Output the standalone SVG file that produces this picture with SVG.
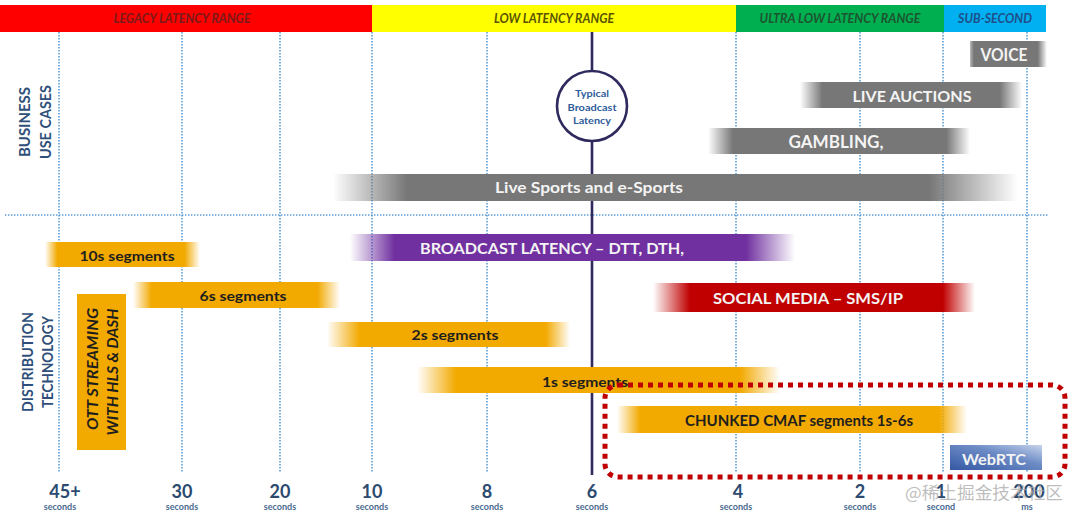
<svg xmlns="http://www.w3.org/2000/svg" width="1080" height="517" viewBox="0 0 1080 517">
<style>
.grid{stroke:#5b9bd5;stroke-width:1.6;stroke-dasharray:1.4 1.6;fill:none}
.band{font-family:Lato,"Liberation Sans",sans-serif;font-style:italic;font-weight:bold;font-size:12.5px;text-anchor:middle}
.lbl{font-family:Lato,"Liberation Sans",sans-serif;font-weight:bold;font-size:15px;fill:#2f4f7a;text-anchor:middle}
.wt{font-family:Lato,"Liberation Sans",sans-serif;font-weight:bold;fill:#f4f4f4;text-anchor:middle}
.dk{font-family:Lato,"Liberation Sans",sans-serif;font-weight:bold;fill:#1e1e1e;text-anchor:middle}
.num{font-family:Lato,"Liberation Sans",sans-serif;font-weight:bold;font-size:18px;fill:#2c4a70;text-anchor:middle}
.sec{font-family:Lato,"Liberation Sans",sans-serif;font-weight:bold;font-size:9px;fill:#4a6a90;text-anchor:middle}
.circ{font-family:Lato,"Liberation Sans",sans-serif;font-weight:bold;font-size:10px;fill:#2e5c9a;text-anchor:middle}
</style>
<defs>
<linearGradient id="gVoice"><stop offset="0" stop-color="#777" stop-opacity="0.5"/><stop offset="0.05" stop-color="#777"/><stop offset="0.88" stop-color="#777"/><stop offset="1" stop-color="#777" stop-opacity="0"/></linearGradient>
<linearGradient id="gAuc"><stop offset="0" stop-color="#777" stop-opacity="0"/><stop offset="0.1" stop-color="#777"/><stop offset="0.9" stop-color="#777"/><stop offset="1" stop-color="#777" stop-opacity="0"/></linearGradient>
<linearGradient id="gGam"><stop offset="0" stop-color="#777" stop-opacity="0"/><stop offset="0.095" stop-color="#777"/><stop offset="0.91" stop-color="#777"/><stop offset="1" stop-color="#777" stop-opacity="0"/></linearGradient>
<linearGradient id="gSport"><stop offset="0" stop-color="#777" stop-opacity="0"/><stop offset="0.108" stop-color="#777"/><stop offset="0.87" stop-color="#777"/><stop offset="1" stop-color="#777" stop-opacity="0"/></linearGradient>
<linearGradient id="g10"><stop offset="0" stop-color="#f2a900" stop-opacity="0"/><stop offset="0.08" stop-color="#f2a900"/><stop offset="0.9" stop-color="#f2a900"/><stop offset="1" stop-color="#f2a900" stop-opacity="0"/></linearGradient>
<linearGradient id="g6"><stop offset="0" stop-color="#f2a900" stop-opacity="0"/><stop offset="0.09" stop-color="#f2a900"/><stop offset="0.89" stop-color="#f2a900"/><stop offset="1" stop-color="#f2a900" stop-opacity="0"/></linearGradient>
<linearGradient id="g2"><stop offset="0" stop-color="#f2a900" stop-opacity="0"/><stop offset="0.135" stop-color="#f2a900"/><stop offset="0.9" stop-color="#f2a900"/><stop offset="1" stop-color="#f2a900" stop-opacity="0"/></linearGradient>
<linearGradient id="g1"><stop offset="0" stop-color="#f2a900" stop-opacity="0"/><stop offset="0.108" stop-color="#f2a900"/><stop offset="0.89" stop-color="#f2a900"/><stop offset="1" stop-color="#f2a900" stop-opacity="0"/></linearGradient>
<linearGradient id="gCm"><stop offset="0" stop-color="#f2a900" stop-opacity="0"/><stop offset="0.066" stop-color="#f2a900"/><stop offset="0.92" stop-color="#f2a900"/><stop offset="1" stop-color="#f2a900" stop-opacity="0"/></linearGradient>
<linearGradient id="gPur"><stop offset="0" stop-color="#7030a0" stop-opacity="0"/><stop offset="0.1" stop-color="#7030a0"/><stop offset="0.89" stop-color="#7030a0"/><stop offset="1" stop-color="#7030a0" stop-opacity="0"/></linearGradient>
<linearGradient id="gRed"><stop offset="0" stop-color="#c00000" stop-opacity="0"/><stop offset="0.115" stop-color="#c00000"/><stop offset="0.9" stop-color="#c00000"/><stop offset="1" stop-color="#c00000" stop-opacity="0"/></linearGradient>
<linearGradient id="gWeb" x1="0" y1="1" x2="1" y2="0"><stop offset="0" stop-color="#3558a3"/><stop offset="0.6" stop-color="#6d8cc6"/><stop offset="1" stop-color="#c7d4ec"/></linearGradient>
</defs>

<g id="bands">
<rect x="0" y="5" width="372" height="27" fill="#ff0000"/>
<rect x="372" y="5" width="364" height="27" fill="#ffff00"/>
<rect x="736" y="5" width="208" height="27" fill="#00b050"/>
<rect x="944" y="5" width="102" height="27" fill="#00b0f0"/>
<text class="band" x="182" y="23" fill="#7a1a1a" textLength="137" lengthAdjust="spacingAndGlyphs">LEGACY LATENCY RANGE</text>
<text class="band" x="554" y="23" fill="#5a5400" textLength="120" lengthAdjust="spacingAndGlyphs">LOW LATENCY RANGE</text>
<text class="band" x="840" y="23" fill="#1c5530" textLength="161" lengthAdjust="spacingAndGlyphs">ULTRA LOW LATENCY RANGE</text>
<text class="band" x="995" y="23" fill="#1f4f8a" textLength="74" lengthAdjust="spacingAndGlyphs">SUB-SECOND</text>
</g>

<g id="connectors">
<path class="grid" d="M59 32V472M182 32V472M280 32V472M372 32V472M487 32V472M736 32V472M860 32V472M943 32V472M1027 32V472M5 215H1048"/>
<line x1="592" y1="32" x2="592" y2="475" stroke="#2e2a5e" stroke-width="2.6"/>
</g>

<g id="row-labels">
<text class="lbl" transform="translate(30,122) rotate(-90)" textLength="70" lengthAdjust="spacingAndGlyphs">BUSINESS</text>
<text class="lbl" transform="translate(51,122) rotate(-90)" textLength="74" lengthAdjust="spacingAndGlyphs">USE CASES</text>
<text class="lbl" transform="translate(33,362) rotate(-90)" textLength="100" lengthAdjust="spacingAndGlyphs">DISTRIBUTION</text>
<text class="lbl" transform="translate(53,362) rotate(-90)" textLength="92" lengthAdjust="spacingAndGlyphs">TECHNOLOGY</text>
</g>

<g id="typical-broadcast">
<circle cx="592" cy="106" r="35" fill="#ffffff" stroke="#2e2a5e" stroke-width="2.6"/>
<text class="circ" x="592" y="97" textLength="34" lengthAdjust="spacingAndGlyphs">Typical</text>
<text class="circ" x="592" y="111" textLength="49" lengthAdjust="spacingAndGlyphs">Broadcast</text>
<text class="circ" x="592" y="124" textLength="38" lengthAdjust="spacingAndGlyphs">Latency</text>
</g>

<g id="voice"><rect x="970" y="41" width="77" height="26" fill="url(#gVoice)"/><text class="wt" x="1004" y="61" font-size="16.5" textLength="47" lengthAdjust="spacingAndGlyphs">VOICE</text></g>
<g id="live-auctions"><rect x="800" y="82" width="222" height="26" fill="url(#gAuc)"/><text class="wt" x="912" y="102" font-size="16" textLength="119" lengthAdjust="spacingAndGlyphs">LIVE AUCTIONS</text></g>
<g id="gambling"><rect x="708" y="128" width="262" height="26" fill="url(#gGam)"/><text class="wt" x="836" y="148" font-size="16.5" textLength="95" lengthAdjust="spacingAndGlyphs">GAMBLING,</text></g>
<g id="live-sports"><rect x="333" y="174" width="685" height="27" fill="url(#gSport)"/><text class="wt" x="589" y="193" font-size="15.5" textLength="188" lengthAdjust="spacingAndGlyphs">Live Sports and e-Sports</text></g>

<g id="seg10"><rect x="45" y="242" width="155" height="25" fill="url(#g10)"/><text class="dk" x="127" y="261" font-size="14" textLength="95" lengthAdjust="spacingAndGlyphs">10s segments</text></g>
<g id="broadcast"><rect x="350" y="234" width="445" height="27" fill="url(#gPur)"/><text class="wt" x="552" y="254" font-size="15" textLength="264" lengthAdjust="spacingAndGlyphs">BROADCAST LATENCY – DTT, DTH,</text></g>
<g id="seg6"><rect x="133" y="282" width="207" height="26" fill="url(#g6)"/><text class="dk" x="243" y="301" font-size="14" textLength="87" lengthAdjust="spacingAndGlyphs">6s segments</text></g>
<g id="social"><rect x="653" y="283" width="322" height="29" fill="url(#gRed)"/><text class="wt" x="808" y="304" font-size="16" textLength="190" lengthAdjust="spacingAndGlyphs">SOCIAL MEDIA – SMS/IP</text></g>
<g id="ott"><rect x="77" y="294" width="49" height="156" fill="#f2a900"/>
<text class="dk" transform="translate(98,369) rotate(-90)" font-size="14.5" font-style="italic" textLength="122" lengthAdjust="spacingAndGlyphs">OTT STREAMING</text>
<text class="dk" transform="translate(118,372) rotate(-90)" font-size="14.5" font-style="italic" textLength="127" lengthAdjust="spacingAndGlyphs">WITH HLS &amp; DASH</text></g>
<g id="seg2"><rect x="327" y="322" width="243" height="25" fill="url(#g2)"/><text class="dk" x="455" y="340" font-size="14" textLength="87" lengthAdjust="spacingAndGlyphs">2s segments</text></g>
<g id="seg1"><rect x="417" y="367" width="363" height="26" fill="url(#g1)"/><text class="dk" x="585" y="387" font-size="14" textLength="86" lengthAdjust="spacingAndGlyphs">1s segments</text></g>
<g id="cmaf"><rect x="617" y="406" width="350" height="27" fill="url(#gCm)"/><text class="dk" x="799" y="426" font-size="15" textLength="228" lengthAdjust="spacingAndGlyphs">CHUNKED CMAF segments 1s-6s</text></g>
<g id="webrtc"><rect x="950" y="445" width="92" height="25" fill="url(#gWeb)"/><text class="wt" x="994" y="465" font-size="15" textLength="64" lengthAdjust="spacingAndGlyphs">WebRTC</text></g>

<g id="highlight">
<rect x="605" y="385" width="460" height="92" rx="13" fill="none" stroke="#c00000" stroke-width="5" stroke-dasharray="5 5"/>
</g>

<g id="axis">
<text class="num" x="65" y="498">45+</text><text class="sec" x="60" y="510">seconds</text>
<text class="num" x="182" y="498">30</text><text class="sec" x="182" y="510">seconds</text>
<text class="num" x="280" y="498">20</text><text class="sec" x="280" y="510">seconds</text>
<text class="num" x="372" y="498">10</text><text class="sec" x="372" y="510">seconds</text>
<text class="num" x="487" y="498">8</text><text class="sec" x="487" y="510">seconds</text>
<text class="num" x="592" y="498">6</text><text class="sec" x="592" y="510">seconds</text>
<text class="num" x="738" y="498">4</text><text class="sec" x="736" y="510">seconds</text>
<text class="num" x="860" y="498">2</text><text class="sec" x="860" y="510">seconds</text>
<text class="num" x="941" y="498">1</text><text class="sec" x="941" y="510">second</text>
<text class="num" x="1029" y="498">200</text><text class="sec" x="1027" y="510">ms</text>
</g>

<g id="watermark">
<text x="984" y="499" font-family="'Noto Sans CJK SC',sans-serif" font-size="17" fill="#a8a8a8" fill-opacity="0.75" text-anchor="middle" textLength="158" lengthAdjust="spacingAndGlyphs">@稀土掘金技术社区</text>
</g>
</svg>
